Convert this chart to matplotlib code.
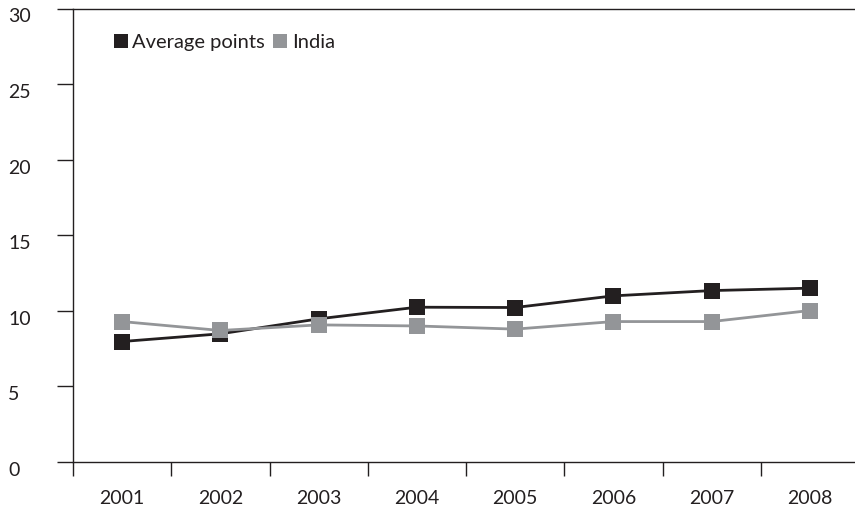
import numpy as np
import matplotlib
matplotlib.use("Agg")
import matplotlib.pyplot as plt
from matplotlib.ticker import FixedLocator

years = ["2001", "2002", "2003", "2004", "2005", "2006", "2007", "2008"]
average_points = [7.97, 8.48, 9.47, 10.24, 10.22, 10.99, 11.34, 11.5]
india = [9.29, 8.7, 9.07, 9.0, 8.79, 9.29, 9.29, 10.02]
y_ticks = [0, 5, 10, 15, 20, 25, 30]

dark = "#231f20"
grey = "#939598"

plt.rcParams['font.family'] = ['Lato', 'DejaVu Sans']

fig = plt.figure(figsize=(8.55, 5.08), dpi=100)
ax = fig.add_axes([73 / 855, 1 - 462 / 508, 786 / 855, (462 - 8.5) / 508])

x = np.arange(len(years))
ax.plot(x, average_points, color=dark, lw=2, marker="s", ms=11.5,
        markeredgewidth=0, label="Average points", zorder=3)
ax.plot(x, india, color=grey, lw=2, marker="s", ms=11.5,
        markeredgewidth=0, label="India", zorder=4)

ax.set_xlim(-0.5, len(years) - 0.5)
ax.set_ylim(0, 30)

# category labels centered, ticks on the boundaries
ax.set_xticks(x)
ax.set_xticklabels(years, fontsize=14, color=dark)
ax.xaxis.set_minor_locator(FixedLocator(np.arange(-0.5, len(years) - 0.5, 1)))
ax.tick_params(axis="x", which="major", length=0, pad=20)
ax.tick_params(axis="x", which="minor", length=10, width=1, color=dark,
               direction="out")

ax.set_yticks(y_ticks)
ax.set_yticklabels([str(v) for v in y_ticks], fontsize=14, color=dark)
ax.tick_params(axis="y", length=11.5, width=1, color=dark, direction="out",
               pad=35)
for lab in ax.get_yticklabels():
    lab.set_horizontalalignment("left")
    lab.set_verticalalignment("top")

for side in ["left", "bottom", "top"]:
    ax.spines[side].set_color(dark)
    ax.spines[side].set_linewidth(1)
ax.spines["right"].set_visible(False)

leg = ax.legend(loc="upper left", bbox_to_anchor=(114 / 855, 1 - 34 / 508),
                bbox_transform=fig.transFigure, ncol=2, frameon=False,
                fontsize=14.5, handlelength=0.65, handletextpad=0.25,
                columnspacing=0.45, borderpad=0, borderaxespad=0)
for h in leg.legend_handles:
    h.set_linestyle("none")
    h.set_markersize(9.5)
for t in leg.get_texts():
    t.set_color(dark)

fig.savefig("out.png", dpi=100)
